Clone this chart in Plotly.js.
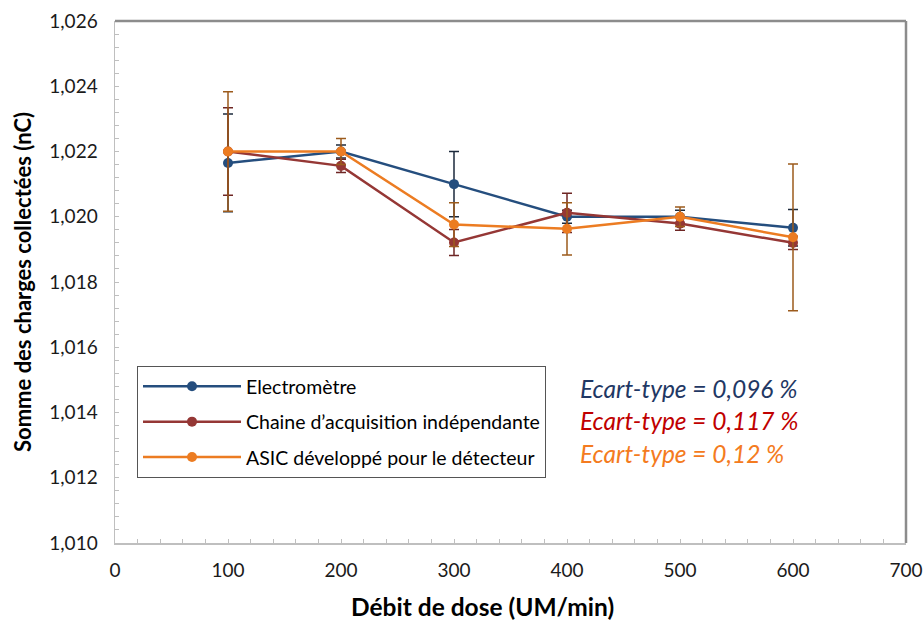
<!DOCTYPE html>
<html>
<head>
<meta charset="utf-8">
<script src="https://cdn.plot.ly/plotly-3.0.1.min.js"></script>
<style>html,body{margin:0;padding:0;background:#fff;}#chart{width:924px;height:620px;}</style>
</head>
<body>
<div id="chart"></div>
<script>
const doseRates = [100, 200, 300, 400, 500, 600];
const seriesNames = ['Electromètre', 'Chaine d\u2019acquisition indépendante', 'ASIC développé pour le détecteur'];
const electrometre = [1.02165, 1.0220, 1.0210, 1.0200, 1.0200, 1.01966];
const electrometreErr = [0.0015, 0.0002, 0.0010, 0.0002, 0.0002, 0.00056];
const chaine = [1.0220, 1.02156, 1.01921, 1.02012, 1.01979, 1.0192];
const chaineErr = [0.00134, 0.0002, 0.0004, 0.0006, 0.0002, 0.0002];
const asic = [1.0220, 1.0220, 1.01976, 1.01963, 1.0200, 1.01937];
const asicErr = [0.00183, 0.0004, 0.00067, 0.0008, 0.0003, 0.00225];
const ecartTypes = ['Ecart-type = 0,096 %', 'Ecart-type = 0,117 %', 'Ecart-type = 0,12 %'];
const yTickVals = [1.010, 1.012, 1.014, 1.016, 1.018, 1.020, 1.022, 1.024, 1.026];
const xTickVals = [0, 100, 200, 300, 400, 500, 600, 700];
const xTitle = 'Débit de dose (UM/min)';
const yTitle = 'Somme des charges collectées (nC)';

const lineColors = ['#254e7e', '#953735', '#ec7c22'];
const errColors = ['#1c2a3c', '#6e2624', '#9c5b1c'];
const noteColors = ['#1f3864', '#c00000', '#f47b20'];

const ys = [electrometre, chaine, asic];
const errs = [electrometreErr, chaineErr, asicErr];

const traces = ys.map((y, i) => ({
  x: doseRates,
  y: y,
  name: seriesNames[i],
  legendgroup: 'g' + i,
  type: 'scatter',
  mode: 'lines+markers',
  line: {color: lineColors[i], width: 2.5},
  marker: {color: lineColors[i], size: 10, symbol: 'circle'},
  error_y: {type: 'data', array: errs[i], visible: true, color: errColors[i], thickness: 1.5, width: 5},
  hoverinfo: 'skip'
}));

const font = 'Lato, "Open Sans", sans-serif';

const annotations = ecartTypes.map((t, i) => ({
  xref: 'paper', yref: 'paper',
  x: (578 - 115) / 791, xanchor: 'left',
  y: (543 - (388 + i * 32.5)) / 522.3, yanchor: 'middle',
  text: '<i>' + t + '</i>',
  showarrow: false,
  font: {family: font, size: 24.5, color: noteColors[i]}
}));
annotations.push({
  xref: 'paper', yref: 'paper',
  x: (482 - 115) / 791, xanchor: 'center',
  y: (543 - 607) / 522.3, yanchor: 'middle',
  text: '<b>' + xTitle + '</b>',
  showarrow: false,
  font: {family: font, size: 24.5, color: '#000000'}
});

const layout = {
  width: 924, height: 620,
  margin: {l: 115, r: 18, t: 21, b: 77},
  paper_bgcolor: '#ffffff', plot_bgcolor: '#ffffff',
  separators: ', ',
  showlegend: true,
  legend: {
    x: (137 - 115) / 791, xanchor: 'left',
    y: (543 - 366) / 522.3, yanchor: 'top',
    bgcolor: '#ffffff', bordercolor: '#555555', borderwidth: 1,
    font: {family: font, size: 19.5, color: '#000000'},
    traceorder: 'grouped', tracegroupgap: 7,
    itemwidth: 98
  },
  xaxis: {
    range: [0, 700],
    tickvals: xTickVals,
    ticks: 'inside', ticklen: 4, tickcolor: '#bfbfbf',
    minor: {dtick: 20, ticks: 'inside', ticklen: 4, tickcolor: '#bfbfbf'},
    showgrid: false, zeroline: false,
    showline: true, linecolor: '#bfbfbf', linewidth: 1.5, mirror: false,
    tickfont: {family: font, size: 19, color: '#1a1a1a'},
    ticklabelstandoff: 10
  },
  yaxis: {
    range: [1.010, 1.026],
    tickvals: yTickVals,
    tickformat: '.3f',
    ticks: 'inside', ticklen: 4, tickcolor: '#bfbfbf',
    minor: {dtick: 0.0004, ticks: 'inside', ticklen: 4, tickcolor: '#bfbfbf'},
    showgrid: false, zeroline: false,
    showline: true, linecolor: '#bfbfbf', linewidth: 1.5,
    tickfont: {family: font, size: 19, color: '#1a1a1a'},
    ticklabelstandoff: 12,
    title: {text: '<b>' + yTitle + '</b>', font: {family: font, size: 22, color: '#000000'}, standoff: 11}
  },
  shapes: [
    {type: 'line', xref: 'paper', yref: 'paper', x0: 0, x1: 1, y0: 1, y1: 1, line: {color: '#8c8c8c', width: 2.5}},
    {type: 'line', xref: 'paper', yref: 'paper', x0: 1, x1: 1, y0: 0, y1: 1, line: {color: '#8c8c8c', width: 2.5}}
  ],
  annotations: annotations
};

Plotly.newPlot('chart', traces, layout, {displayModeBar: false, staticPlot: true});
</script>
</body>
</html>
